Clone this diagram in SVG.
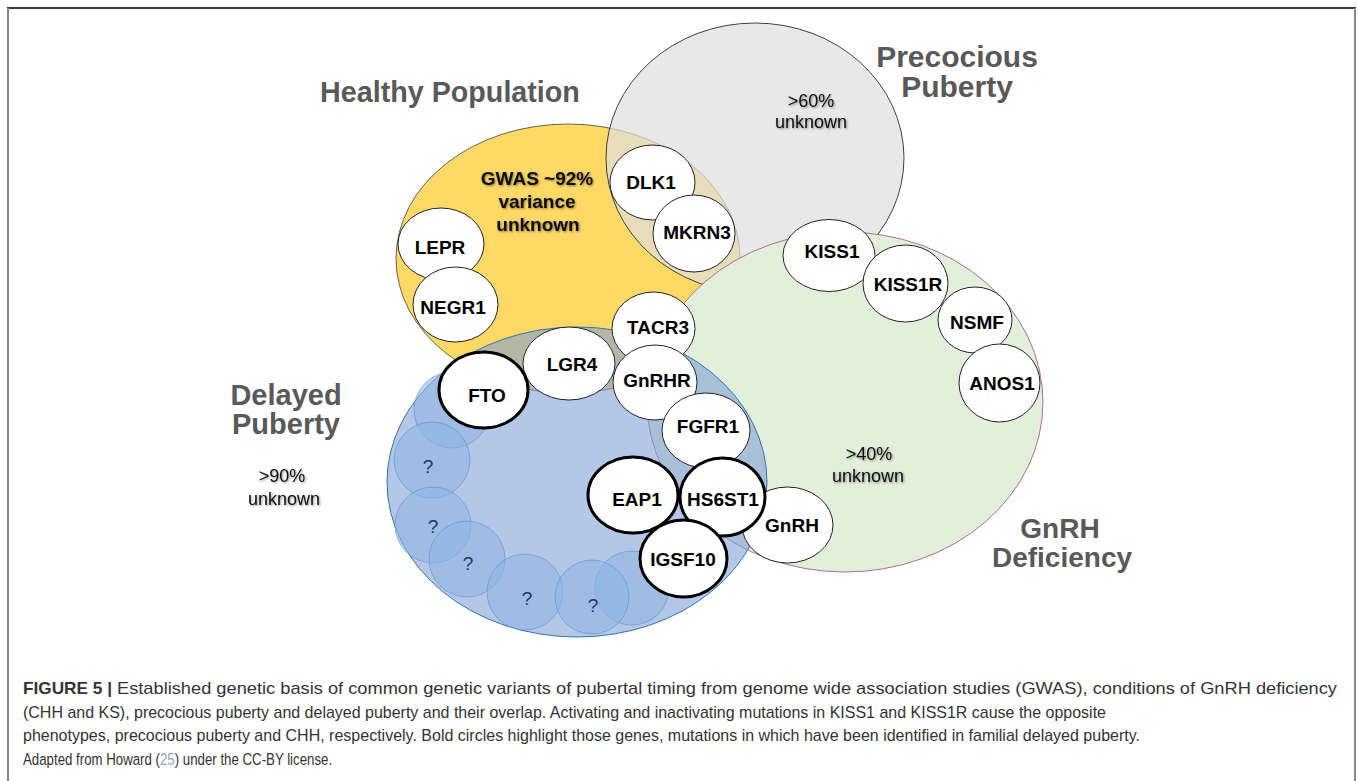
<svg xmlns="http://www.w3.org/2000/svg" width="1358" height="781" viewBox="0 0 1358 781">
<defs>
<style>
.gene{fill:#fff;stroke:#222;stroke-width:1}
.boldc{fill:#fff;stroke:#000;stroke-width:3}
.gl{font-family:"Liberation Sans",Arial,sans-serif;font-weight:bold;font-size:19px;fill:#000;text-anchor:middle}
.title{font-family:"Liberation Sans",Arial,sans-serif;font-weight:bold;fill:#595959;text-anchor:middle}
.pct{font-family:"Liberation Sans",Arial,sans-serif;font-size:18px;fill:#111;text-anchor:middle}
.pctb{font-family:"Liberation Sans",Arial,sans-serif;font-size:19px;font-weight:bold;fill:#111;text-anchor:middle}
.q{fill:#8fb4e3;fill-opacity:0.6;stroke:#5b8fd0;stroke-opacity:0.6;stroke-width:1}
.qt{font-family:"Liberation Sans",Arial,sans-serif;font-size:19px;fill:#203864;text-anchor:middle}
.cap{font-family:"Liberation Sans",Arial,sans-serif;font-size:17px;fill:#333}
</style>
<filter id="sh" x="-10%" y="-30%" width="120%" height="160%">
<feGaussianBlur in="SourceAlpha" stdDeviation="1"/>
<feOffset dx="0.5" dy="0.5" result="b"/>
<feFlood flood-color="#000" flood-opacity="0.45"/>
<feComposite in2="b" operator="in"/>
<feMerge><feMergeNode/><feMergeNode in="SourceGraphic"/></feMerge>
</filter>
</defs>
<rect x="0" y="0" width="1358" height="781" fill="#fff"/>
<g id="frame">
<line x1="7" y1="8" x2="1356" y2="8" stroke="#3a3a3a" stroke-width="2"/>
<line x1="8" y1="8" x2="8" y2="781" stroke="#888" stroke-width="2"/>
<line x1="1355" y1="8" x2="1355" y2="781" stroke="#888" stroke-width="2"/>
</g>
<g id="sets">
<ellipse id="healthy" cx="568" cy="258.5" rx="172" ry="134.5" fill="#ffd966" stroke="#404040" stroke-width="0.8"/>
<ellipse id="precocious" cx="755" cy="158" rx="149" ry="135" fill="#dedede" fill-opacity="0.7" stroke="#404040" stroke-width="1"/>
<ellipse id="gnrh" cx="845" cy="402" rx="198" ry="170" fill="#e2efda" stroke="#a9728a" stroke-width="1"/>
<ellipse id="delayed" cx="577" cy="482" rx="190" ry="155" fill="#7d9ed5" fill-opacity="0.575" stroke="#2e75b6" stroke-width="1"/>
</g>
<g id="unknown-genes">
<circle class="q" cx="452" cy="410" r="38"/>
<circle class="q" cx="432" cy="460" r="38"/>
<circle class="q" cx="433" cy="525" r="38"/>
<circle class="q" cx="467" cy="559" r="38"/>
<circle class="q" cx="632" cy="588" r="37"/>
<circle class="q" cx="525" cy="592" r="38"/>
<circle class="q" cx="592" cy="597" r="37"/>
<text class="qt" x="428" y="473">?</text>
<text class="qt" x="433" y="533">?</text>
<text class="qt" x="468" y="570">?</text>
<text class="qt" x="527" y="605">?</text>
<text class="qt" x="593" y="612">?</text>
</g>
<g id="connectors"></g>
<g id="DLK1"><ellipse class="gene" cx="652.5" cy="182.5" rx="42.5" ry="37.5"/><text class="gl" x="651" y="189">DLK1</text></g>
<g id="MKRN3"><ellipse class="gene" cx="694" cy="233.5" rx="41" ry="38.5"/><text class="gl" x="697" y="239">MKRN3</text></g>
<g id="LEPR"><ellipse class="gene" cx="441" cy="244" rx="43" ry="36"/><text class="gl" x="440" y="254">LEPR</text></g>
<g id="NEGR1"><ellipse class="gene" cx="455.5" cy="304.5" rx="42.5" ry="37.5"/><text class="gl" x="453" y="314">NEGR1</text></g>
<g id="TACR3"><ellipse class="gene" cx="653.5" cy="328.5" rx="41.5" ry="36.5"/><text class="gl" x="658" y="334">TACR3</text></g>
<g id="LGR4"><ellipse class="gene" cx="569" cy="363.5" rx="46" ry="36.5"/><text class="gl" x="572" y="371">LGR4</text></g>
<g id="GnRHR"><ellipse class="gene" cx="655" cy="382.5" rx="42" ry="37.5"/><text class="gl" x="657" y="387">GnRHR</text></g>
<g id="FTO"><ellipse class="boldc" cx="483.5" cy="390" rx="44.5" ry="38"/><text class="gl" x="487" y="402">FTO</text></g>
<g id="FGFR1"><ellipse class="gene" cx="706" cy="430.5" rx="44" ry="37.5"/><text class="gl" x="708" y="433">FGFR1</text></g>
<g id="KISS1"><ellipse class="gene" cx="829" cy="255.5" rx="46" ry="36"/><text class="gl" x="832" y="258">KISS1</text></g>
<g id="KISS1R"><ellipse class="gene" cx="905.5" cy="283.5" rx="42.5" ry="38.5"/><text class="gl" x="908" y="291">KISS1R</text></g>
<g id="NSMF"><ellipse class="gene" cx="975" cy="320" rx="37" ry="33"/><text class="gl" x="977" y="329">NSMF</text></g>
<g id="ANOS1"><ellipse class="gene" cx="999.5" cy="383" rx="40.5" ry="39"/><text class="gl" x="1002" y="390">ANOS1</text></g>
<g id="GnRH"><ellipse class="gene" cx="787.5" cy="525" rx="45.5" ry="38"/><text class="gl" x="792" y="532">GnRH</text></g>
<g id="EAP1"><ellipse class="boldc" cx="633" cy="495" rx="45" ry="38"/><text class="gl" x="637" y="506">EAP1</text></g>
<g id="HS6ST1"><ellipse class="boldc" cx="722.5" cy="497" rx="42.5" ry="39"/><text class="gl" x="723" y="506">HS6ST1</text></g>
<g id="IGSF10"><ellipse class="boldc" cx="683.5" cy="558.5" rx="43.5" ry="38.5"/><text class="gl" x="683" y="566">IGSF10</text></g>
<g id="labels">
<text class="title" x="450" y="102" font-size="28.7">Healthy Population</text>
<text class="title" x="957" y="67" font-size="30">Precocious</text>
<text class="title" x="957" y="97" font-size="30">Puberty</text>
<text class="title" x="286" y="405" font-size="29">Delayed</text>
<text class="title" x="286" y="434" font-size="29">Puberty</text>
<text class="title" x="1060" y="538" font-size="28">GnRH</text>
<text class="title" x="1062" y="567" font-size="28">Deficiency</text>
<g filter="url(#sh)">
<text class="pctb" x="537" y="185">GWAS ~92%</text>
<text class="pctb" x="537" y="208">variance</text>
<text class="pctb" x="538" y="231">unknown</text>
<text class="pct" x="811" y="107">&gt;60%</text>
<text class="pct" x="811" y="128">unknown</text>
<text class="pct" x="869" y="460">&gt;40%</text>
<text class="pct" x="868" y="482">unknown</text>
<text class="pct" x="282" y="482">&gt;90%</text>
<text class="pct" x="284" y="505">unknown</text>
</g>
</g>
<g id="caption">
<text class="cap" x="23" y="694" font-weight="bold" fill="#222" textLength="89" lengthAdjust="spacingAndGlyphs">FIGURE 5 |</text>
<text class="cap" x="117" y="694" textLength="1220" lengthAdjust="spacingAndGlyphs">Established genetic basis of common genetic variants of pubertal timing from genome wide association studies (GWAS), conditions of GnRH deficiency</text>
<text class="cap" x="23" y="718" textLength="1083" lengthAdjust="spacingAndGlyphs">(CHH and KS), precocious puberty and delayed puberty and their overlap. Activating and inactivating mutations in KISS1 and KISS1R cause the opposite</text>
<text class="cap" x="23" y="741" textLength="1117" lengthAdjust="spacingAndGlyphs">phenotypes, precocious puberty and CHH, respectively. Bold circles highlight those genes, mutations in which have been identified in familial delayed puberty.</text>
<text class="cap" transform="translate(23 765) scale(0.78 1)" x="0" y="0">Adapted from Howard (<tspan fill="#8aa6c4">25</tspan>) under the CC-BY license.</text>
</g>
</svg>
